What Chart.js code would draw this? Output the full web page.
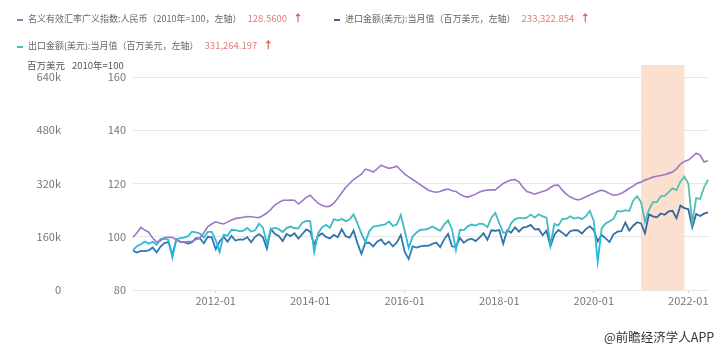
<!DOCTYPE html>
<html lang="zh">
<head>
<meta charset="utf-8">
<script src="https://cdn.jsdelivr.net/npm/chart.js@4"></script>
<style>
  body { margin: 0; background: #fff; font-family: "Noto Sans CJK SC", "Noto Sans", sans-serif; }
  #wrap { position: relative; width: 720px; height: 350px; overflow: hidden; }
  #wrap canvas { position: absolute; left: 0; top: 0; }
  .lg { position: absolute; font-size: 9px; color: #666; white-space: nowrap; line-height: 14px; }
  .lg i { display: inline-block; width: 6px; height: 2px; vertical-align: middle; margin-right: 5px; }
  .lg b { font-weight: normal; font-size: 9.5px; color: #e27b7b; margin-left: 6px; }
  .lg u { text-decoration: none; color: #e04a4a; margin-left: 6px; font-weight: bold; font-size: 10px; }
  .ttl { position: absolute; font-size: 9.5px; color: #555; white-space: nowrap; }
  #src { position: absolute; left: 604px; top: 327px; font-size: 12.5px; color: #333; white-space: nowrap; }
</style>
</head>
<body>
<div id="wrap">
  <canvas id="grafico"></canvas>
  <div class="lg" style="left:17px;top:11px"><i style="background:#9b77c6"></i>名义有效汇率广义指数:人民币（2010年=100，左轴）<b>128.5600</b><u>↑</u></div>
  <div class="lg" style="left:334px;top:11px"><i style="background:#33679d"></i>进口金额(美元):当月值（百万美元，左轴）<b>233,322.854</b><u>↑</u></div>
  <div class="lg" style="left:17px;top:38px"><i style="background:#3fbfc4"></i>出口金额(美元):当月值（百万美元，左轴）<b>331,264.197</b><u>↑</u></div>
  <div class="ttl" style="left:27px;top:58px">百万美元</div>
  <div class="ttl" style="left:72px;top:58px">2010年=100</div>
  <div id="src">@前瞻经济学人APP</div>
</div>
<script>
// === 人民币汇率指数 与 进出口金额（月度，2010-04 ~ 2022-06） ===

// 月份（类别）
const meses = [];
for (let y = 2010, m = 4; y < 2022 || (y === 2022 && m <= 6); m++) {
  if (m > 12) { m = 1; y++; }
  meses.push(y + '-' + String(m).padStart(2, '0'));
}

// 名义有效汇率广义指数:人民币 (2010年=100)
const indice = [
  99.8, 101.5, 103.5, 102.5, 101.7, 99.5, 98, 98.5, 99.7,
  99.8, 99.7, 99, 98.2, 98, 98.2, 98.2, 99, 99.5, 101.5, 103.8, 104.8,
  105.6, 105.2, 104.8, 105.5, 106.3, 106.8, 107.1, 107.3, 107.6, 107.5, 107.3, 107.2,
  108, 108.9, 110.3, 111.9, 112.8, 113.7, 113.7, 113.8, 113.7, 112.3, 113.5, 114.8,
  115.6, 114, 112.6, 111.8, 111.3, 111.5, 112.6, 114.5, 116.5, 118.5, 120, 121.5,
  122.5, 123.5, 125.4, 125, 124.3, 125.5, 126.9, 126.2, 125.7, 126, 126.5, 125,
  123.5, 122.5, 121.5, 120.5, 119.5, 118.5, 117.5, 117, 116.7, 117, 117.6, 117.9,
  117.3, 117, 116, 115.2, 114.9, 115.4, 116, 116.8, 117.3, 117.5, 117.6, 117.6,
  118.8, 120, 120.8, 121.3, 121.5, 120.6, 118.6, 117, 116.5, 116, 116.5, 117,
  117.5, 118.5, 119.3, 119.4, 117.5, 116, 115, 114.3, 113.8, 114.3, 115, 115.7,
  116.3, 117, 117.5, 117, 116.2, 115.6, 115.8, 116.3, 117.2, 118.2, 119, 120.1,
  120.6, 121.3, 121.8, 122.4, 122.7, 123, 123.3, 123.8, 124.3, 125.5, 127.3, 128.3,
  128.8, 130, 131.4, 130.7, 128.1, 128.56
];

// 进口金额(美元):当月值 (百万美元)
const importacoes = [
  118200, 112300, 117200, 116800, 119300, 128000, 113000, 130400, 141100,
  144300, 104700, 152100, 144300, 144100, 139700, 143700, 155600, 155200, 140500, 160000, 158200,
  122700, 146000, 160400, 144900, 162400, 148500, 151800, 151300, 158600, 143600, 159800, 168000,
  158200, 124100, 183000, 168900, 162400, 147200, 168200, 162000, 170200, 154300, 168400, 182100,
  175300, 137100, 162400, 170100, 159600, 155000, 165600, 158700, 182700, 161600, 157100, 178800,
  140100, 108600, 141600, 142200, 131100, 145300, 152000, 136600, 145300, 130800, 143000, 165200,
  114200, 93400, 131200, 127700, 131100, 133500, 132800, 138500, 142500, 129000, 152200, 168600,
  131400, 129300, 156700, 142000, 150700, 154000, 147000, 157700, 170500, 150800, 179500, 178000,
  180300, 138800, 179100, 172400, 188000, 175100, 187300, 189600, 195500, 182100, 183100, 164200,
  178200, 131100, 166000, 180600, 172300, 162600, 176600, 180000, 178800, 170000, 183000, 191300,
  180000, 146000, 165300, 155000, 143900, 167200, 175300, 176500, 202800, 178800, 193100, 203700,
  200000, 171000, 227300, 221100, 218400, 229900, 226000, 236000, 238000, 215700, 253700, 246000,
  243000, 188000, 228400, 222500, 229500, 233322.854
];

// 出口金额(美元):当月值 (百万美元)
const exportacoes = [
  119900, 131800, 137400, 145500, 139300, 144900, 136000, 153300, 154200,
  150700, 97400, 152200, 155700, 157200, 162000, 175100, 173300, 169700, 157500, 174500, 174700,
  149900, 114500, 165700, 163300, 181100, 180200, 176900, 178000, 186300, 175600, 179400, 199200,
  187400, 139400, 182000, 187100, 182800, 174300, 186000, 190600, 185600, 185400, 202200, 207700,
  207100, 114100, 170100, 188500, 195500, 186800, 212900, 208500, 213700, 206900, 211600, 227500,
  200300, 169200, 144600, 176300, 190800, 191900, 195100, 196900, 205600, 192400, 197200, 225600,
  177500, 126000, 160900, 172700, 181100, 181700, 184700, 190600, 184500, 178200, 196800, 209400,
  182800, 120100, 180600, 180000, 191300, 196700, 193600, 199600, 198100, 189000, 217400, 231800,
  200500, 171900, 174100, 200500, 212900, 216700, 215200, 217400, 226700, 217400, 227400, 221200,
  217600, 135200, 198700, 193500, 213800, 213600, 221600, 214800, 218200, 212900, 221700, 238000,
  207000, 85500, 185200, 200300, 206800, 213600, 237600, 235300, 239800, 237200, 268100, 281900,
  263900, 204900, 241100, 263900, 263900, 281400, 282700, 294300, 305700, 300200, 325500, 340500,
  320000, 200000, 276100, 273600, 308200, 331264.197
];

// 刻度
const ticksIndice = [80, 100, 120, 140, 160];
const ticksValor = [0, 160000, 320000, 480000, 640000];

// 阴影区间
const sombraInicio = '2021-01';
const sombraFim = '2021-12';

// 只显示偶数年的一月
const mostraMes = (l) => l.endsWith('-01') && Number(l.slice(0, 4)) % 2 === 0;

// 渐变线色
function gradiente(chart, scaleId, vTop, vBot, cTop, cBot) {
  const area = chart.chartArea;
  if (!area) return cTop;
  const s = chart.scales[scaleId];
  const g = chart.ctx.createLinearGradient(0, s.getPixelForValue(vTop), 0, s.getPixelForValue(vBot));
  g.addColorStop(0, cTop);
  g.addColorStop(1, cBot);
  return g;
}

// 阴影插件
const sombra = {
  id: 'sombra',
  beforeDatasetsDraw(chart) {
    const x = chart.scales.x;
    const a = chart.chartArea;
    const x0 = x.getPixelForValue(meses.indexOf(sombraInicio));
    const x1 = x.getPixelForValue(meses.indexOf(sombraFim));
    const ctx = chart.ctx;
    ctx.save();
    ctx.fillStyle = '#fbe0cf';
    ctx.fillRect(x0, a.top - 12, x1 - x0, a.bottom - a.top + 12);
    ctx.restore();
  }
};

const fonte = { family: '"Noto Sans CJK SC", "Noto Sans", sans-serif', size: 11 };

const config = {
  type: 'line',
  data: {
    labels: meses,
    datasets: [
      {
        label: '名义有效汇率广义指数:人民币',
        data: indice,
        yAxisID: 'y',
        borderColor: '#9b77c6',
        borderWidth: 1.6,
        pointRadius: 0,
        order: 0
      },
      {
        label: '出口金额(美元):当月值',
        data: exportacoes,
        yAxisID: 'y2',
        borderColor: (c) => gradiente(c.chart, 'y2', 360000, 80000, '#6cc19c', '#1cb6e6'),
        borderWidth: 1.8,
        pointRadius: 0,
        order: 1
      },
      {
        label: '进口金额(美元):当月值',
        data: importacoes,
        yAxisID: 'y2',
        borderColor: (c) => gradiente(c.chart, 'y2', 260000, 90000, '#385f94', '#2b80bd'),
        borderWidth: 1.8,
        pointRadius: 0,
        order: 2
      }
    ]
  },
  options: {
    responsive: true,
    maintainAspectRatio: false,
    animation: false,
    layout: { padding: { left: 0, right: 12, top: 77, bottom: 0 } },
    plugins: {
      legend: { display: false },
      tooltip: { enabled: false }
    },
    scales: {
      x: {
        type: 'category',
        grid: {
          drawOnChartArea: false,
          drawTicks: true,
          tickLength: 3,
          color: (c) => (c.tick && mostraMes(meses[c.index]) ? '#cfcfcf' : 'rgba(0,0,0,0)')
        },
        border: { display: false },
        ticks: {
          autoSkip: false,
          maxRotation: 0,
          padding: 1,
          color: '#777',
          font: fonte,
          callback: (v, i) => (mostraMes(meses[i]) ? meses[i] : '')
        },
        afterFit: (s) => { s.height = 60; }
      },
      y: {
        position: 'left',
        weight: 0,
        min: 80,
        max: 160,
        afterBuildTicks: (s) => { s.ticks = ticksIndice.map((v) => ({ value: v })); },
        grid: { color: '#e6e6e6', drawTicks: false },
        border: { display: false },
        ticks: { padding: 7, color: '#777', font: fonte },
        afterFit: (s) => { s.width = 63; }
      },
      y2: {
        position: 'left',
        weight: 1,
        min: 0,
        max: 640000,
        afterBuildTicks: (s) => { s.ticks = ticksValor.map((v) => ({ value: v })); },
        grid: { display: false, drawTicks: false },
        border: { display: false },
        ticks: {
          padding: 9,
          color: '#777',
          font: fonte,
          callback: (v) => (v === 0 ? '0' : v / 1000 + 'k')
        },
        afterFit: (s) => { s.width = 70; }
      }
    }
  },
  plugins: [sombra]
};

new Chart(document.getElementById('grafico'), config);
</script>
</body>
</html>
